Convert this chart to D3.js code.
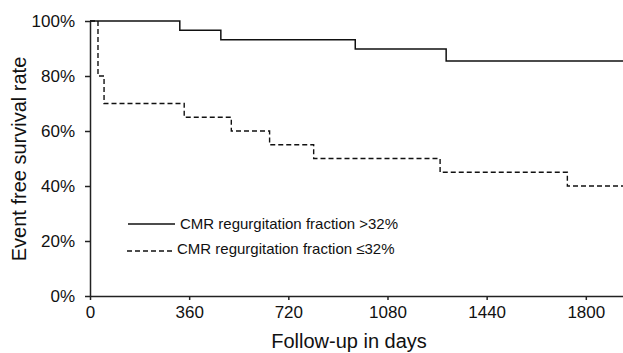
<!DOCTYPE html>
<html><head><meta charset="utf-8">
<script src="https://cdn.jsdelivr.net/npm/d3@7"></script>
<style>body{margin:0;background:#fff}svg{display:block;font-family:Arial,"Liberation Sans",sans-serif}</style>
</head><body><svg id="c" width="623" height="353"></svg>
<script>
const seriesNames = ["CMR regurgitation fraction >32%", "CMR regurgitation fraction \u226432%"];
const highDays = [0, 326, 475, 963, 1293, 1935];
const highSurv = [100, 96.6, 93.2, 89.8, 85.5, 85.5];
const lowDays = [0, 29, 51, 342, 513, 652, 812, 1271, 1733, 1935];
const lowSurv = [100, 80, 70, 65, 60, 55, 50, 45, 40, 40];
const xTicks = [0, 360, 720, 1080, 1440, 1800];
const yTicks = [0, 20, 40, 60, 80, 100];

const svg = d3.select("#c");
const x = d3.scaleLinear().domain([0, 1935]).range([90, 623]);
const y = d3.scaleLinear().domain([0, 100]).range([296, 21]);

const xAxis = svg.append("g").attr("transform", "translate(0,296)")
  .call(d3.axisBottom(x).tickValues(xTicks).tickSize(4).tickSizeOuter(0).tickPadding(6).tickFormat(d3.format("d")));
const yAxis = svg.append("g").attr("transform", "translate(90,0)")
  .call(d3.axisLeft(y).tickValues(yTicks).tickSize(5).tickSizeOuter(0).tickPadding(10).tickFormat(d => d + "%"));
[xAxis, yAxis].forEach(g => {
  g.selectAll("path,line").attr("stroke", "#222").attr("stroke-width", 1.5);
  g.selectAll("text").attr("font-size", 17).attr("fill", "#111").attr("font-family", "Arial, 'Liberation Sans', sans-serif");
});

const line = d3.line().x(d => x(d[0])).y(d => y(d[1])).curve(d3.curveStepAfter);
svg.append("path").datum(lowDays.map((d, i) => [d, lowSurv[i]]))
  .attr("d", line).attr("fill", "none").attr("stroke", "#111").attr("stroke-width", 1.4).attr("stroke-dasharray", "5,3");
svg.append("path").datum(highDays.map((d, i) => [d, highSurv[i]]))
  .attr("d", line).attr("fill", "none").attr("stroke", "#111").attr("stroke-width", 1.5);

// legend
const leg = [{x1: 128, x2: 175, y: 224, tx: 180, dash: null}, {x1: 127, x2: 172, y: 251, tx: 177, dash: "5,3"}];
leg.forEach((l, i) => {
  svg.append("line").attr("x1", l.x1).attr("x2", l.x2).attr("y1", l.y).attr("y2", l.y)
    .attr("stroke", "#111").attr("stroke-width", 1.3).attr("stroke-dasharray", l.dash);
  svg.append("text").attr("x", l.tx).attr("y", l.y - (i ? 2 : 0)).attr("dy", "0.35em")
    .attr("font-size", 15).attr("fill", "#111").text(seriesNames[i]);
});

svg.append("text").attr("x", 349).attr("y", 348).attr("text-anchor", "middle")
  .attr("font-size", 20).attr("fill", "#111").text("Follow-up in days");
svg.append("text").attr("transform", "translate(26,159) rotate(-90)").attr("text-anchor", "middle")
  .attr("font-size", 20).attr("fill", "#111").text("Event free survival rate");
</script></body></html>
